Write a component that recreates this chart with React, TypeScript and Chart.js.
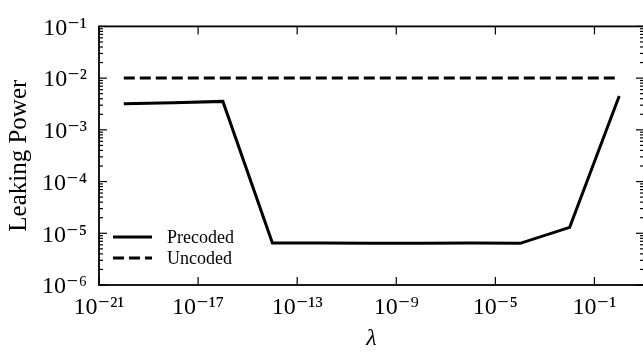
import React, { useEffect, useRef } from 'react';
import { Chart, registerables } from 'chart.js';

Chart.register(...registerables);

// ---- data ----
const lambdaValues = [1e-20, 1e-18, 1e-16, 1e-14, 1e-12, 1e-10, 1e-8, 1e-6, 1e-4, 1e-2, 1];
const precodedValues = [3.2e-3, 3.35e-3, 3.55e-3, 6.5e-6, 6.5e-6, 6.4e-6, 6.4e-6, 6.5e-6, 6.4e-6, 1.3e-5, 4.5e-3];
const uncodedValues = [1e-2, 1e-2, 1e-2, 1e-2, 1e-2, 1e-2, 1e-2, 1e-2, 1e-2, 1e-2, 1e-2];
const seriesLabels = ['Precoded', 'Uncoded'];

const xTickValues = [1e-21, 1e-17, 1e-13, 1e-9, 1e-5, 1e-1];
const xTickLabels = ['10⁻²¹', '10⁻¹⁷', '10⁻¹³', '10⁻⁹', '10⁻⁵', '10⁻¹'];
const yTickValues = [1e-6, 1e-5, 1e-4, 1e-3, 1e-2, 1e-1];
const yTickLabels = ['10⁻⁶', '10⁻⁵', '10⁻⁴', '10⁻³', '10⁻²', '10⁻¹'];
const yMinorDecades = [-6, -5, -4, -3, -2];
const yMinorMultipliers = [2, 3, 4, 5, 6, 7, 8, 9];

const SERIF = '"Liberation Serif", "DejaVu Serif", serif';

function labelFor(values: number[], labels: string[], v: number) {
  const i = values.findIndex((t) => Math.abs(Math.log10(t) - Math.log10(v)) < 1e-6);
  return i >= 0 ? labels[i] : '';
}

const frameAndLegend = {
  id: 'frameAndLegend',
  afterDraw(chart: any) {
    const { ctx, chartArea, scales } = chart;
    const { left, right, top, bottom } = chartArea;
    const xs = scales.x;
    const ys = scales.y;
    ctx.save();
    ctx.strokeStyle = '#000';
    ctx.lineWidth = 1.2;
    ctx.setLineDash([]);
    const seg = (x1: number, y1: number, x2: number, y2: number) => {
      ctx.beginPath();
      ctx.moveTo(x1, y1);
      ctx.lineTo(x2, y2);
      ctx.stroke();
    };
    for (const v of xTickValues) {
      const px = xs.getPixelForValue(v);
      seg(px, bottom, px, bottom - 8);
      seg(px, top, px, top + 8);
    }
    for (const v of yTickValues) {
      const py = ys.getPixelForValue(v);
      seg(left, py, left + 8, py);
      seg(right, py, right - 8, py);
    }
    for (const d of yMinorDecades) {
      for (const m of yMinorMultipliers) {
        const py = ys.getPixelForValue(m * Math.pow(10, d));
        seg(left, py, left + 4, py);
        seg(right, py, right - 4, py);
      }
    }
    ctx.lineWidth = 1.8;
    ctx.strokeRect(left, top, right - left, bottom - top);

    // legend
    const dsets = chart.data.datasets;
    ctx.font = `18px ${SERIF}`;
    ctx.fillStyle = '#000';
    ctx.textBaseline = 'middle';
    ctx.textAlign = 'left';
    dsets.forEach((ds: any, i: number) => {
      const y = bottom - 48 + i * 21;
      ctx.lineWidth = ds.borderWidth;
      ctx.setLineDash(ds.borderDash || []);
      seg(left + 14, y, left + 53, y);
      ctx.setLineDash([]);
      ctx.fillText(ds.label, left + 68, y + 1);
    });
    ctx.restore();
  },
};

export default function App() {
  const ref = useRef<HTMLCanvasElement>(null);
  useEffect(() => {
    const chart = new Chart(ref.current as HTMLCanvasElement, {
      type: 'line',
      data: {
        datasets: [
          {
            label: seriesLabels[0],
            data: lambdaValues.map((x, i) => ({ x, y: precodedValues[i] })),
            borderColor: '#000',
            borderWidth: 3,
            pointRadius: 0,
            fill: false,
            tension: 0,
          },
          {
            label: seriesLabels[1],
            data: lambdaValues.map((x, i) => ({ x, y: uncodedValues[i] })),
            borderColor: '#000',
            borderWidth: 3,
            borderDash: [11, 5],
            pointRadius: 0,
            fill: false,
            tension: 0,
          },
        ],
      },
      options: {
        animation: false,
        responsive: false,
        layout: { padding: { top: 13, right: 1, left: 0, bottom: 0 } },
        plugins: { legend: { display: false }, tooltip: { enabled: false } },
        scales: {
          x: {
            type: 'logarithmic',
            min: 1e-21,
            max: 10,
            grid: { display: false, drawTicks: false },
            border: { display: false },
            afterBuildTicks: (s: any) => {
              s.ticks = xTickValues.map((v) => ({ value: v }));
            },
            afterFit: (s: any) => {
              s.height = 68;
            },
            ticks: {
              autoSkip: false,
              maxRotation: 0,
              padding: 8,
              color: '#000',
              font: { family: SERIF, size: 24 },
              callback: (v: any) => labelFor(xTickValues, xTickLabels, Number(v)),
            },
            title: {
              display: true,
              text: 'λ',
              color: '#000',
              font: { family: SERIF, size: 24, style: 'italic' },
              padding: 0,
            },
          },
          y: {
            type: 'logarithmic',
            min: 1e-6,
            max: 1e-1,
            grid: { display: false, drawTicks: false },
            border: { display: false },
            afterBuildTicks: (s: any) => {
              s.ticks = yTickValues.map((v) => ({ value: v }));
            },
            afterFit: (s: any) => {
              s.width = 99;
            },
            ticks: {
              autoSkip: false,
              padding: 12,
              labelOffset: 2,
              color: '#000',
              font: { family: SERIF, size: 24 },
              callback: (v: any) => labelFor(yTickValues, yTickLabels, Number(v)),
            },
            title: {
              display: true,
              text: 'Leaking Power',
              color: '#000',
              font: { family: SERIF, size: 25 },
              padding: { top: 4, bottom: 0 },
            },
          },
        },
      },
      plugins: [frameAndLegend],
    } as any);
    return () => chart.destroy();
  }, []);
  return (
    <div
      style={{
        position: 'absolute',
        left: 0,
        top: 0,
        width: 643,
        height: 353,
        overflow: 'hidden',
        background: '#fff',
      }}
    >
      <canvas ref={ref} width={645} height={353} style={{ display: 'block', width: 645, height: 353 }} />
    </div>
  );
}
